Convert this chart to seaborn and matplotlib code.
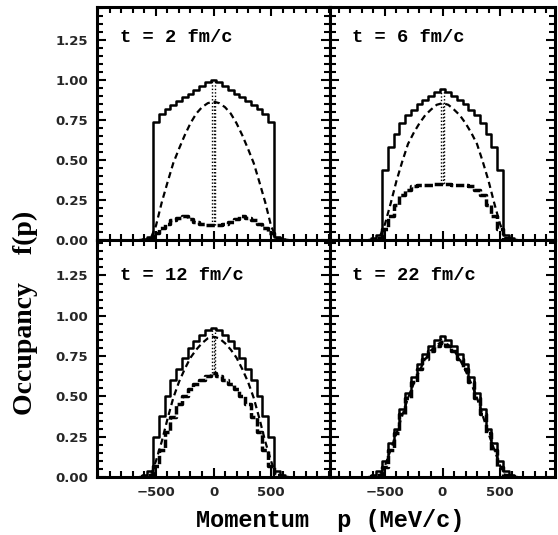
import matplotlib
matplotlib.use("Agg")
import matplotlib.pyplot as plt
from matplotlib.ticker import MultipleLocator, FixedLocator, FixedFormatter
import seaborn as sns

# momentum bin centres (MeV/c) of the occupancy histograms
p_bins = [-650, -600, -550, -500, -450, -400, -350, -300, -250, -200, -150, -100, -50,
          0, 50, 100, 150, 200, 250, 300, 350, 400, 450, 500, 550, 600, 650]
# momenta of the smooth reference curves
p_smooth = [-540, -500, -450, -400, -350, -300, -250, -200, -150, -100, -50, 0,
            50, 100, 150, 200, 250, 300, 350, 400, 450, 500, 540]

# t = 2 fm/c
solid_t2 = [0.0, 0.008, 0.02, 0.74, 0.79, 0.82, 0.845, 0.87, 0.895, 0.915, 0.94, 0.965, 0.985,
            1.0, 0.985, 0.965, 0.94, 0.915, 0.895, 0.87, 0.845, 0.82, 0.79, 0.74, 0.02, 0.008, 0.0]
lower_t2 = [0.0, 0.0, 0.01, 0.045, 0.075, 0.10, 0.125, 0.14, 0.15, 0.13, 0.11, 0.10, 0.095,
            0.095, 0.095, 0.10, 0.11, 0.13, 0.15, 0.14, 0.125, 0.10, 0.075, 0.045, 0.01, 0.0, 0.0]
dashed_t2 = [0.02, 0.09, 0.235, 0.36, 0.48, 0.57, 0.655, 0.73, 0.79, 0.83, 0.855, 0.865,
             0.855, 0.83, 0.79, 0.73, 0.655, 0.57, 0.48, 0.36, 0.235, 0.09, 0.02]

# t = 6 fm/c
solid_t6 = [0.0, 0.01, 0.03, 0.44, 0.58, 0.66, 0.73, 0.78, 0.815, 0.85, 0.875, 0.90, 0.925,
            0.945, 0.925, 0.90, 0.875, 0.85, 0.815, 0.78, 0.73, 0.66, 0.58, 0.44, 0.03, 0.01, 0.0]
lower_t6 = [0.0, 0.0, 0.01, 0.07, 0.15, 0.22, 0.28, 0.315, 0.335, 0.345, 0.345, 0.345, 0.35,
            0.35, 0.35, 0.345, 0.345, 0.345, 0.335, 0.315, 0.28, 0.22, 0.15, 0.07, 0.01, 0.0, 0.0]
dashed_t6 = [0.03, 0.10, 0.23, 0.37, 0.49, 0.60, 0.67, 0.73, 0.78, 0.815, 0.845, 0.855,
             0.845, 0.815, 0.78, 0.73, 0.67, 0.60, 0.49, 0.37, 0.23, 0.10, 0.03]

# t = 12 fm/c
solid_t12 = [0.003, 0.015, 0.04, 0.25, 0.38, 0.50, 0.60, 0.67, 0.74, 0.80, 0.845, 0.88, 0.91,
             0.925, 0.91, 0.88, 0.845, 0.80, 0.74, 0.67, 0.60, 0.50, 0.38, 0.25, 0.04, 0.015, 0.003]
lower_t12 = [0.0, 0.005, 0.01, 0.07, 0.17, 0.28, 0.37, 0.45, 0.50, 0.545, 0.575, 0.60, 0.625,
             0.645, 0.625, 0.60, 0.575, 0.545, 0.50, 0.45, 0.37, 0.28, 0.17, 0.07, 0.01, 0.005, 0.0]
dashed_t12 = [0.02, 0.10, 0.22, 0.36, 0.49, 0.59, 0.67, 0.74, 0.79, 0.83, 0.86, 0.87,
              0.86, 0.83, 0.79, 0.74, 0.67, 0.59, 0.49, 0.36, 0.22, 0.10, 0.02]

# t = 22 fm/c
solid_t22 = [0.003, 0.015, 0.04, 0.10, 0.21, 0.30, 0.42, 0.52, 0.62, 0.70, 0.76, 0.81, 0.85,
             0.875, 0.85, 0.81, 0.76, 0.70, 0.62, 0.52, 0.42, 0.30, 0.21, 0.10, 0.04, 0.015, 0.003]
lower_t22 = [0.0, 0.005, 0.01, 0.06, 0.17, 0.27, 0.39, 0.49, 0.59, 0.67, 0.73, 0.78, 0.815,
             0.83, 0.815, 0.78, 0.73, 0.67, 0.59, 0.49, 0.39, 0.27, 0.17, 0.06, 0.01, 0.005, 0.0]
dashed_t22 = [0.02, 0.07, 0.17, 0.27, 0.38, 0.49, 0.58, 0.66, 0.73, 0.785, 0.82, 0.84,
              0.82, 0.785, 0.73, 0.66, 0.58, 0.49, 0.38, 0.27, 0.17, 0.07, 0.02]

panel_labels = ["t = 2 fm/c", "t = 6 fm/c", "t = 12 fm/c", "t = 22 fm/c"]
y_ticks = [0.00, 0.25, 0.50, 0.75, 1.00, 1.25]
y_ticklabels = ["0.00", "0.25", "0.50", "0.75", "1.00", "1.25"]
x_ticks = [-500, 0, 500]
x_ticklabels = ["\u2212500", "0", "500"]
spike_halfwidth = 12  # MeV/c, the zero-mode spike

sns.set_style("ticks")
plt.rcParams["font.family"] = ["DejaVu Sans"]

W, H = 558, 535
fig = plt.figure(figsize=(W / 100, H / 100), dpi=100)


def frac(x0, y0, x1, y1):
    return [x0 / W, 1 - y1 / H, (x1 - x0) / W, (y1 - y0) / H]


panels = [
    dict(rect=frac(97, 7, 330, 240), xlim=1013, ylim=1.456, solid=solid_t2, lower=lower_t2,
         dashed=dashed_t2, label=panel_labels[0], left=True, bottom=False, ty=1 - 30 / 233),
    dict(rect=frac(330, 7, 555, 240), xlim=978, ylim=1.456, solid=solid_t6, lower=lower_t6,
         dashed=dashed_t6, label=panel_labels[1], left=False, bottom=False, ty=1 - 30 / 233),
    dict(rect=frac(97, 240, 330, 477), xlim=1013, ylim=1.47, solid=solid_t12, lower=lower_t12,
         dashed=dashed_t12, label=panel_labels[2], left=True, bottom=True, ty=1 - 35 / 237),
    dict(rect=frac(330, 240, 555, 477), xlim=978, ylim=1.47, solid=solid_t22, lower=lower_t22,
         dashed=dashed_t22, label=panel_labels[3], left=False, bottom=True, ty=1 - 35 / 237),
]

tick_font = dict(family="DejaVu Sans", weight="bold", size=9.5)
centre = p_bins.index(0)
centre_s = p_smooth.index(0)

for pn in panels:
    ax = fig.add_axes(pn["rect"])
    solid, lower, dashed = pn["solid"], pn["lower"], pn["dashed"]

    # total occupancy histogram
    sns.lineplot(x=p_bins, y=solid, ax=ax, estimator=None, sort=False, color="black",
                 lw=1.8, drawstyle="steps-mid")
    # second component, heavy dashed histogram
    sns.lineplot(x=p_bins, y=lower, ax=ax, estimator=None, sort=False, color="black",
                 lw=2.5, linestyle=(0, (2.4, 0.8)), drawstyle="steps-mid")
    # smooth reference distribution
    sns.lineplot(x=p_smooth, y=dashed, ax=ax, estimator=None, sort=False, color="black",
                 lw=1.6, linestyle=(0, (2.8, 1.8)))
    # zero-momentum spike
    sns.lineplot(x=[-spike_halfwidth, -spike_halfwidth, spike_halfwidth, spike_halfwidth],
                 y=[lower[centre], solid[centre], solid[centre], lower[centre]],
                 ax=ax, estimator=None, sort=False, color="black", lw=1.0,
                 linestyle=(0, (1, 1.5)))
    sns.lineplot(x=[0, 0], y=[lower[centre], dashed[centre_s]], ax=ax, estimator=None,
                 sort=False, color="black", lw=1.0, linestyle=(0, (1, 1.5)))

    ax.set_xlim(-pn["xlim"], pn["xlim"])
    ax.set_ylim(0, pn["ylim"])
    ax.set_xlabel("")
    ax.set_ylabel("")

    ax.xaxis.set_major_locator(FixedLocator(x_ticks))
    ax.xaxis.set_minor_locator(MultipleLocator(100))
    ax.yaxis.set_major_locator(FixedLocator(y_ticks))
    ax.yaxis.set_minor_locator(MultipleLocator(0.05))
    ax.tick_params(which="both", direction="in", top=True, right=True, bottom=True, left=True,
                   color="black", width=1.5)
    ax.tick_params(which="major", length=6.5, pad=6.5)
    ax.tick_params(which="minor", length=4)

    if pn["left"]:
        ax.yaxis.set_major_formatter(FixedFormatter(y_ticklabels))
        for t in ax.get_yticklabels():
            t.set_fontproperties(tick_font)
    else:
        ax.set_yticklabels([])
    if pn["bottom"]:
        ax.xaxis.set_major_formatter(FixedFormatter(x_ticklabels))
        for t in ax.get_xticklabels():
            t.set_fontproperties(tick_font)
    else:
        ax.set_xticklabels([])

    for s in ax.spines.values():
        s.set_linewidth(2.2)
        s.set_color("black")

    ax.text(0.098, pn["ty"], pn["label"], transform=ax.transAxes, ha="left", va="center",
            family="Liberation Mono", weight="bold", size=13.5, color="black")

fig.text(330 / W, 1 - 520 / H, "Momentum  p (MeV/c)", ha="center", va="center",
         family="Liberation Mono", weight="bold", size=17, color="black")
fig.text(25 / W, 1 - 313 / H, "Occupancy    f(p)", ha="center", va="center", rotation=90,
         family="Liberation Serif", weight="bold", size=20, color="black")

fig.savefig("out.png", dpi=100, facecolor="white")
